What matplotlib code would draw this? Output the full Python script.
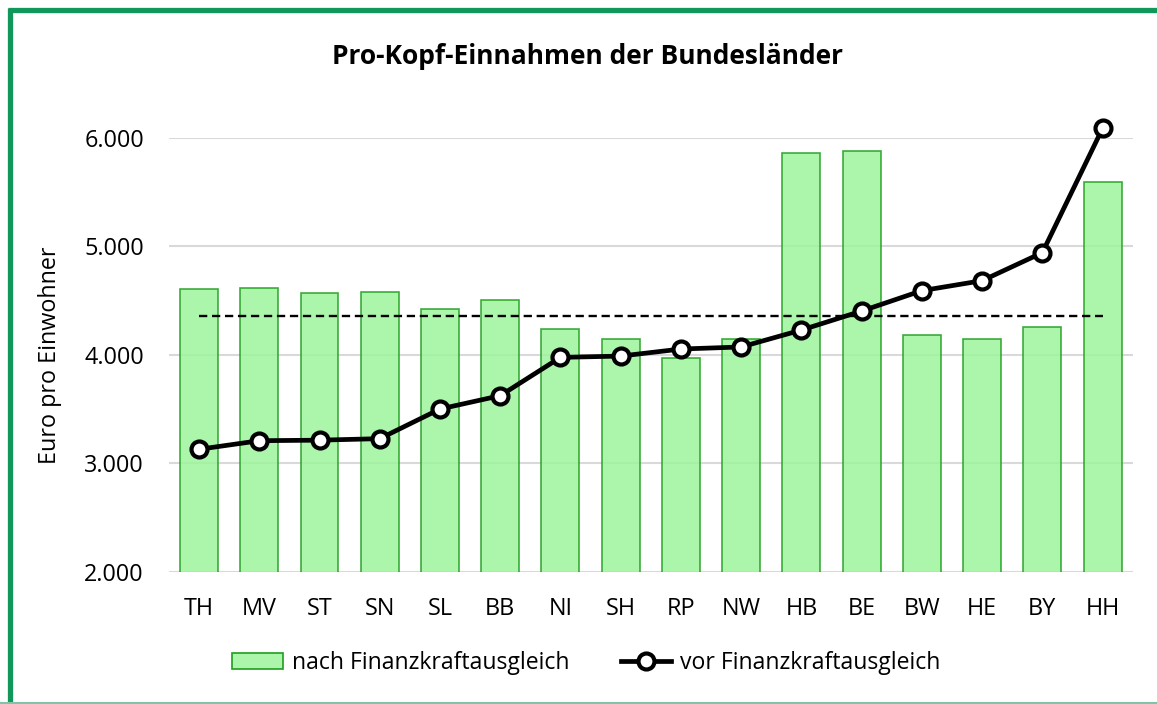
import matplotlib
matplotlib.use("Agg")
import matplotlib.pyplot as plt
from matplotlib.ticker import FuncFormatter
from matplotlib.lines import Line2D
import numpy as np

laender = ["TH", "MV", "ST", "SN", "SL", "BB", "NI", "SH", "RP", "NW",
           "HB", "BE", "BW", "HE", "BY", "HH"]
nach_ausgleich = [4610, 4620, 4575, 4580, 4425, 4510, 4242, 4148, 3972, 4150,
                  5862, 5880, 4188, 4145, 4258, 5597]
vor_ausgleich = [3131, 3210, 3215, 3229, 3502, 3625, 3978, 3990, 4055, 4074,
                 4230, 4405, 4593, 4685, 4943, 6089]
durchschnitt = 4362

plt.rcParams['font.family'] = ['Open Sans', 'DejaVu Sans']

fig = plt.figure(figsize=(11.57, 7.04), dpi=100)
ax = fig.add_axes([0.146, 0.1875, 0.833, 0.6165])

x = np.arange(len(laender))
ax.bar(x, nach_ausgleich, width=0.63, bottom=0, color='#9ef59e', alpha=0.85,
       edgecolor='#1f9e1f', linewidth=1.2, zorder=2)
ax.plot(x, vor_ausgleich, color='black', linewidth=3.4, marker='o',
        markersize=11.5, markerfacecolor='white', markeredgecolor='black',
        markeredgewidth=3.0, zorder=4, clip_on=False)
ax.plot([x[0], x[-1]], [durchschnitt, durchschnitt], color='black',
        linewidth=1.7, dashes=(3.5, 2.0), zorder=3)

ax.set_xlim(-0.5, len(laender) - 0.5)
ax.set_ylim(2000, 6000)
ax.set_yticks([2000, 3000, 4000, 5000, 6000])
ax.yaxis.set_major_formatter(FuncFormatter(lambda v, p: f"{int(v):,}".replace(",", ".")))
ax.set_xticks(x)
ax.set_xticklabels(laender)
ax.tick_params(axis='both', length=0, labelsize=16.8, colors='black')
ax.tick_params(axis='x', pad=18)
ax.tick_params(axis='y', pad=18)
ax.grid(axis='y', color='#d9d9d9', linewidth=1.5, zorder=0)
ax.set_axisbelow(True)
for s in ax.spines.values():
    s.set_visible(False)

ax.set_ylabel("Euro pro Einwohner", fontsize=16.8)
ax.yaxis.set_label_coords(-0.111, 0.5)
fig.text(0.508, 0.92, "Pro-Kopf-Einnahmen der Bundesländer", ha='center',
         va='center', fontsize=19, fontweight='bold')

handles = [
    plt.Rectangle((0, 0), 1, 1, facecolor='#abf6ab', edgecolor='#1f9e1f', linewidth=1.2),
    Line2D([0], [0], color='black', linewidth=3.4, marker='o', markersize=11.5,
           markerfacecolor='white', markeredgecolor='black', markeredgewidth=3.0),
]
fig.legend(handles, ["nach Finanzkraftausgleich", "vor Finanzkraftausgleich"],
           loc='center', bbox_to_anchor=(0.507, 0.058), ncol=2, frameon=False,
           fontsize=16.6, handlelength=2.2, columnspacing=2.2, handletextpad=0.4)

# green frame (left, top, bottom)
fig.add_artist(Line2D([0.0085, 0.0085], [0.0, 0.988], color='#12975a', linewidth=3.8,
                      transform=fig.transFigure, solid_capstyle='butt'))
fig.add_artist(Line2D([0.0065, 1.0], [0.9865, 0.9865], color='#12975a', linewidth=3.8,
                      transform=fig.transFigure, solid_capstyle='butt'))
fig.add_artist(Line2D([0.0, 1.0], [0.0015, 0.0015], color='#7fc4a4', linewidth=1.5,
                      transform=fig.transFigure))

fig.savefig("out.png", dpi=100)
